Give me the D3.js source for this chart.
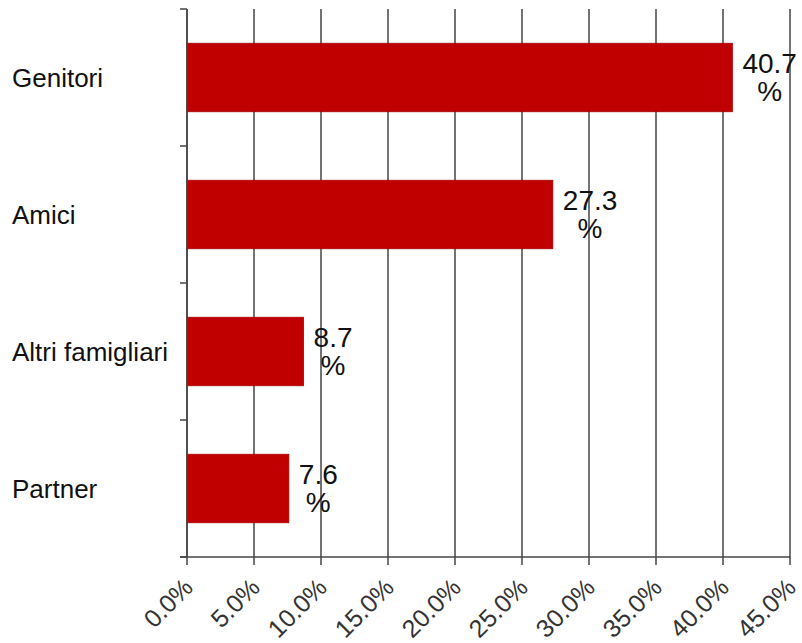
<!DOCTYPE html>
<html>
<head>
<meta charset="utf-8">
<script src="https://cdn.jsdelivr.net/npm/d3@7"></script>
<style>
  body { margin: 0; background: #fff; }
  svg { display: block; font-family: "Liberation Sans", Arial, sans-serif; }
</style>
</head>
<body>
<svg width="802" height="643"></svg>
<script>
// chart values
const categories = ["Genitori", "Amici", "Altri famigliari", "Partner"];
const values = [40.7, 27.3, 8.7, 7.6];
const tickValues = [0, 5, 10, 15, 20, 25, 30, 35, 40, 45];

const svg = d3.select('svg');
const margin = {top: 9, right: 12, bottom: 86, left: 187};
const width = +svg.attr('width');
const height = +svg.attr('height');
const plotW = width - margin.left - margin.right;
const plotH = height - margin.top - margin.bottom;

const g = svg.append('g').attr('transform', `translate(${margin.left},${margin.top})`);

const x = d3.scaleLinear().domain([0, 45]).range([0, plotW]);
const y = d3.scaleBand().domain(categories).range([0, plotH])
  .paddingInner(0.5).paddingOuter(0.25);

// vertical gridlines (run a bit below the axis like tick marks)
g.append('g')
  .selectAll('line')
  .data(tickValues)
  .enter().append('line')
    .attr('x1', d => x(d)).attr('x2', d => x(d))
    .attr('y1', 0).attr('y2', plotH + 8)
    .attr('stroke', '#444').attr('stroke-width', 1.5);

// bars
g.append('g')
  .selectAll('rect')
  .data(values)
  .enter().append('rect')
    .attr('x', x(0))
    .attr('y', (d, i) => y(categories[i]))
    .attr('width', d => x(d))
    .attr('height', y.bandwidth())
    .attr('fill', '#c00000')
    .attr('stroke', '#a80000')
    .attr('stroke-width', 0.8);

// y axis: line plus ticks at category boundaries
const boundaries = d3.range(categories.length + 1).map(i => i * plotH / categories.length);
g.append('line')
  .attr('x1', 0).attr('x2', 0).attr('y1', 0).attr('y2', plotH)
  .attr('stroke', '#444').attr('stroke-width', 1.5);
g.append('g')
  .selectAll('line')
  .data(boundaries)
  .enter().append('line')
    .attr('x1', -7).attr('x2', 0)
    .attr('y1', d => d).attr('y2', d => d)
    .attr('stroke', '#444').attr('stroke-width', 1.5);

// x axis
const xAxis = g.append('g')
  .attr('transform', `translate(0,${plotH})`)
  .call(d3.axisBottom(x).tickValues(tickValues).tickSize(0).tickFormat(d => d.toFixed(1) + '%'));
xAxis.select('.domain').attr('stroke', '#444').attr('stroke-width', 1.5).attr('d', `M-7,0H${plotW}`);
xAxis.selectAll('text')
  .attr('font-size', 25)
  .attr('fill', '#333')
  .attr('text-anchor', 'end')
  .attr('x', 0).attr('y', 0)
  .attr('dy', null)
  .attr('transform', 'translate(7,32) rotate(-45)');

// category labels
g.append('g')
  .selectAll('text')
  .data(categories)
  .enter().append('text')
    .attr('x', 12 - margin.left)
    .attr('y', d => y(d) + y.bandwidth() / 2 + 9)
    .attr('font-size', 26)
    .attr('fill', '#111')
    .text(d => d);

// value labels: number, with the percent sign centred underneath
const labels = g.append('g')
  .selectAll('g')
  .data(values)
  .enter().append('g')
    .attr('transform', (d, i) => `translate(${x(d) + 10},${y(categories[i]) + y.bandwidth() / 2})`);
labels.append('text')
  .attr('class', 'num')
  .attr('y', -5)
  .attr('font-size', 28)
  .attr('fill', '#111')
  .text(d => d.toFixed(1));
labels.each(function() {
  const grp = d3.select(this);
  const w = grp.select('.num').node().getComputedTextLength();
  grp.append('text')
    .attr('x', w / 2).attr('y', 23)
    .attr('text-anchor', 'middle')
    .attr('font-size', 28)
    .attr('fill', '#111')
    .text('%');
});
</script>
</body>
</html>
